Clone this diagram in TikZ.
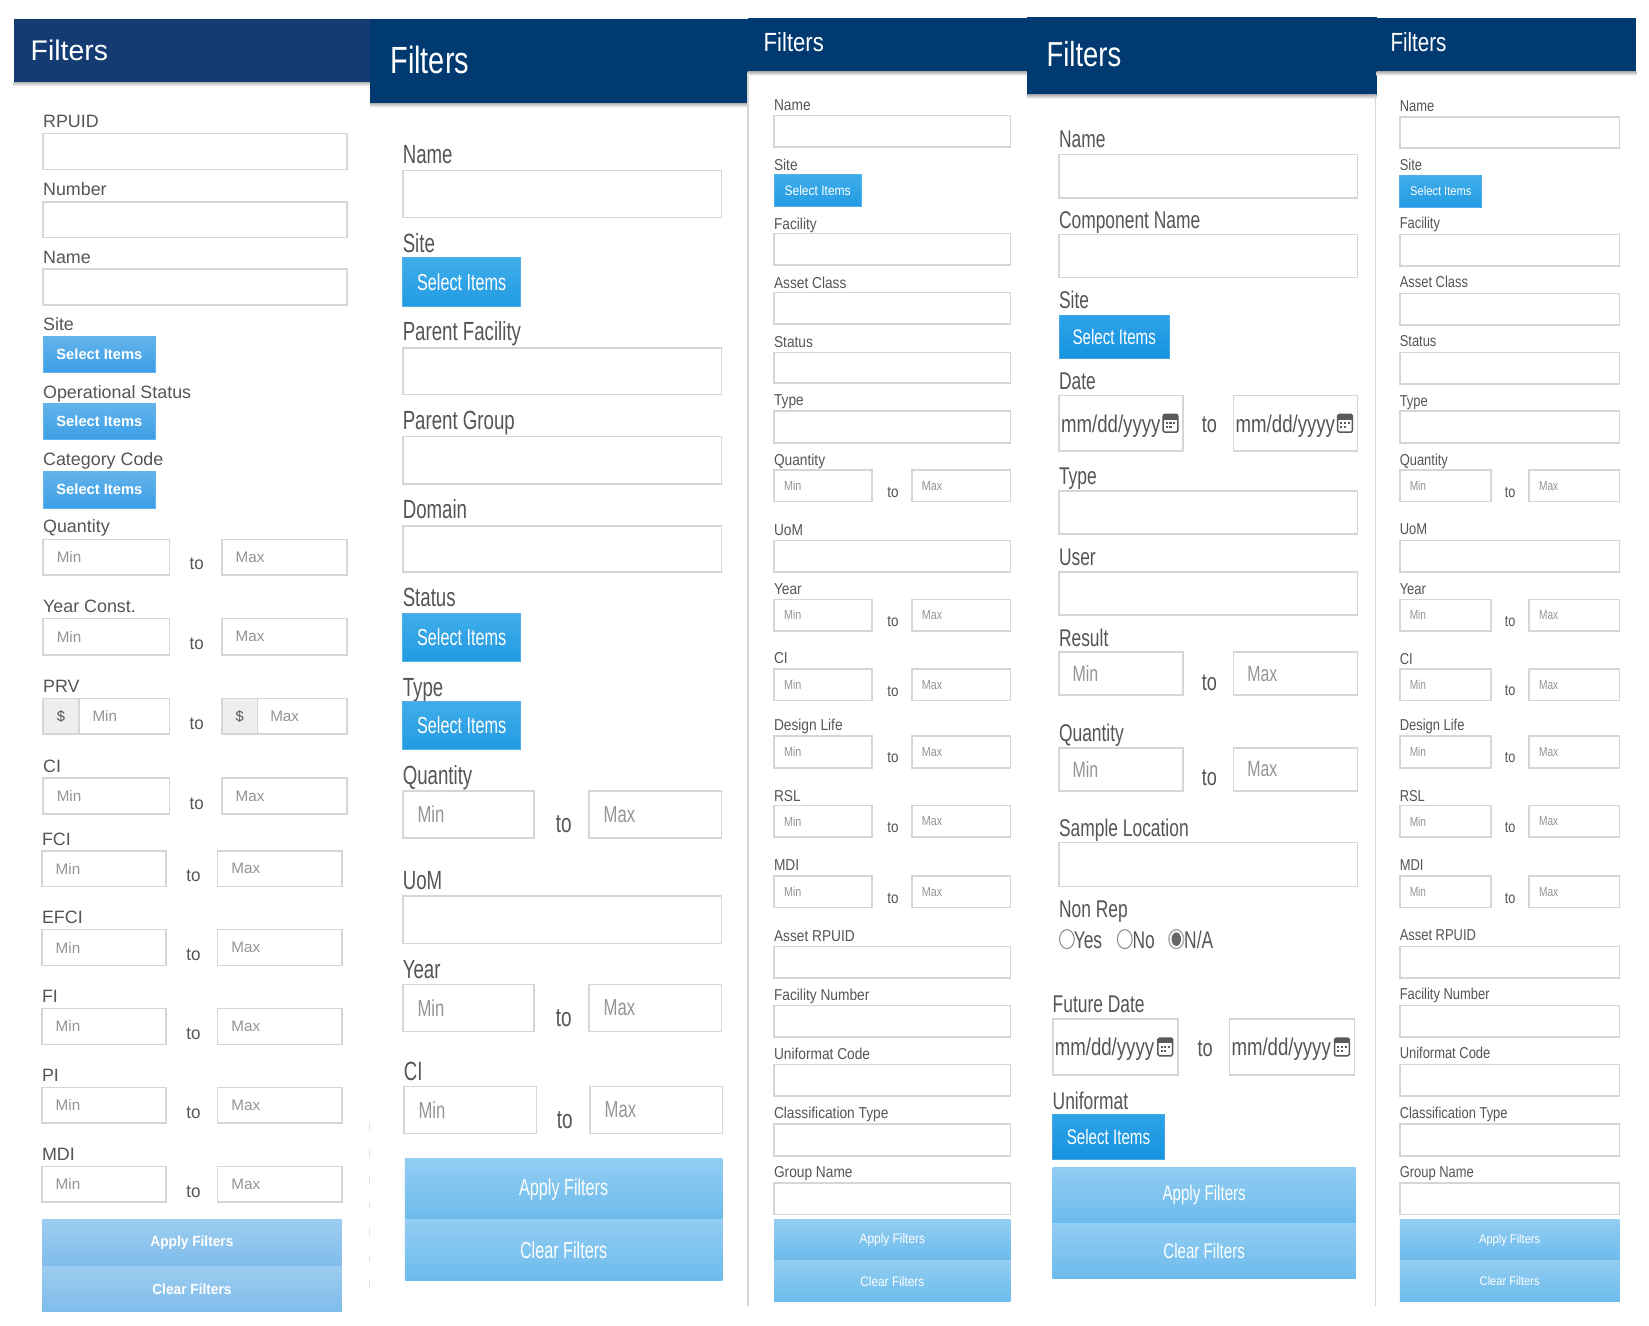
\documentclass[tikz,border=0pt]{standalone}
\usepackage{fontspec}
\usepackage{graphicx}
\setmainfont{Liberation Sans}
\definecolor{navyA}{HTML}{143C72}
\definecolor{navyB}{HTML}{003A70}
\definecolor{labelgray}{HTML}{555555}
\definecolor{holdgray}{HTML}{959595}
\definecolor{boxgray}{HTML}{D6D6D6}
\definecolor{addon}{HTML}{EEEEEE}
\definecolor{selTop}{HTML}{63B3EC}
\definecolor{selBot}{HTML}{3C9FE5}
\definecolor{wideTop}{HTML}{9CCDF0}
\definecolor{wideBot}{HTML}{80BCEB}
\tikzset{
  txt/.style={inner sep=0pt,outer sep=0pt,text=labelgray},
  holdtxt/.style={inner sep=0pt,outer sep=0pt,text=holdgray,anchor=west},
  whitetxt/.style={inner sep=0pt,outer sep=0pt,text=white,anchor=center},
  fieldbox/.style={draw=boxgray,line width=1.5pt,fill=white},
  bandshade/.style={draw=none,top color=#1,bottom color=white}
}
\newcount\nid
\newcommand\mynode{\global\advance\nid by 1 \node}
\def\dy{0}
% panel parameters
\newcommand\Ptext[6]{\def\ls{#1}\def\lx{#2}\def\ps{#3}\def\px{#4}\def\ts{#5}\def\tx{#6}}
\newcommand\Pbtn[6]{\def\bs{#1}\def\bx{#2}\def\as{#3}\def\ax{#4}\def\bw{#5}\def\bh{#6}}
\newcommand\Pgeo[6]{\def\xa{#1}\def\xb{#2}\def\xm{#3}\def\xn{#4}\def\xt{#5}\def\xh{#6}}
\newcommand\header[7]{%
  \fill[#5] (#1,#3) rectangle (#2,#4);
  \shade[bandshade=black!30] (#1,#4) rectangle (#2,#4+4);
  \mynode[inner sep=0pt,text=white,anchor=base west] (n\the\nid) at (#1+#6,#4-#7)
     {\scalebox{\tix}[1]{\fontsize{\tis}{\tis}\selectfont Filters}};}
\newcommand\lbl[2]{\mynode[txt,anchor=base west] (n\the\nid) at (\xa,#1+\dy) {\scalebox{\lx}[1]{\fontsize{\ls}{\ls}\selectfont #2}};}
\newcommand\lblx[3]{\mynode[txt,anchor=base west] (n\the\nid) at (#1,#2+\dy) {\scalebox{\lx}[1]{\fontsize{\ls}{\ls}\selectfont #3}};}
\newcommand\fld[2]{\draw[fieldbox] (\xa,#1) rectangle (\xb,#2);}
\newcommand\hold[3]{\mynode[holdtxt] (n\the\nid) at ({#1},{#2}) {\scalebox{\px}[1]{\fontsize{\ps}{\ps}\selectfont #3}};}
\newcommand\tolbl[1]{\mynode[txt,anchor=base] (n\the\nid) at (\xt,#1+\dy) {\scalebox{\tx}[1]{\fontsize{\ts}{\ts}\selectfont to}};}
\newcommand\rng[3]{%
  \draw[fieldbox] (\xa,#1) rectangle (\xm,#2);
  \draw[fieldbox] (\xn,#1) rectangle (\xb,#2);
  \hold{\xa+\xh}{(#1+#2)/2}{Min}
  \hold{\xn+\xh}{(#1+#2)/2}{Max}
  \tolbl{#3}}
\newcommand\btn[3]{%
  \shade[top color=\bh,bottom color=selBot,draw=selBot!80!white,line width=.8pt]
     (\xa,#1) rectangle (\xa+#3,#2);
  \mynode[whitetxt] (n\the\nid) at ({\xa+#3/2},{(#1+#2)/2})
     {\scalebox{\bx}[1]{\fontsize{\bs}{\bs}\selectfont\bw Select Items}};}
\newcommand\wide[3]{%
  \shade[top color=wideTop,bottom color=wideBot] (\xa,#1) rectangle (\xb,#2);
  \mynode[whitetxt] (n\the\nid) at ({(\xa+\xb)/2},{(#1+#2)/2})
     {\scalebox{\ax}[1]{\fontsize{\as}{\as}\selectfont\bw #3}};}
\newcommand\calicon[2]{%
  \draw[black!65,line width=1.4pt,rounded corners=1.5pt,fill=white] ({#1-7},{#2-8.5}) rectangle ({#1+7},{#2+8.5});
  \fill[black!65] ({#1-7},{#2-8.5}) rectangle ({#1+7},{#2-3.5});
  \foreach \i in {-3.5,0,3.5}{\fill[black!65] ({#1+\i-1},{#2-1}) rectangle ({#1+\i+1},{#2+1});}
  \foreach \i in {-3.5,0}{\fill[black!65] ({#1+\i-1},{#2+2.6}) rectangle ({#1+\i+1},{#2+4.6});}}
\newcommand\datebox[4]{%
  \draw[fieldbox] (#1,#3) rectangle (#2,#4);
  \mynode[txt,anchor=west] (n\the\nid) at (#1+2,{(#3+#4)/2+2.5})
    {\scalebox{.77}[1]{\fontsize{\ls}{\ls}\selectfont mm/dd/yyyy}};
  \calicon{#2-12}{(#3+#4)/2}}
\begin{document}
\begin{tikzpicture}[x=1pt,y=-1pt]
\useasboundingbox (0,0) rectangle (1568,1260);
\fill[white] (0,0) rectangle (1568,1260);

%%% PANEL 1
\def\dy{0.6}
\def\tis{27}\def\tix{1}
\header{13}{352}{18}{78}{navyA}{16}{20.5}
\Ptext{17}{1}{14.5}{1}{17}{.95}
\Pbtn{14}{1}{14}{.93}{\bfseries}{selTop}
\Pgeo{41}{330}{161}{211}{187}{13}
\lbl{121}{RPUID}\fld{127}{161}
\lbl{185}{Number}\fld{192}{226}
\lbl{250}{Name}\fld{256}{290}
\lbl{314}{Site}\btn{320}{354}{107}
\lbl{378}{Operational Status}\btn{384}{418}{107}
\lbl{442}{Category Code}\btn{448}{483}{107}
\lbl{506}{Quantity}\rng{513}{547}{541}
\lbl{582}{Year Const.}\rng{588}{623}{617}
\lbl{658}{PRV}
\draw[fieldbox] (41,664) rectangle (161,698);
\draw[fieldbox] (211,664) rectangle (330,698);
\draw[draw=boxgray,line width=1.5pt,fill=addon] (41,664) rectangle (75,698);
\draw[draw=boxgray,line width=1.5pt,fill=addon] (211,664) rectangle (245,698);
\hold{88}{681}{Min}\hold{257}{681}{Max}
\mynode[txt,anchor=center] (n\the\nid) at (58,681) {\fontsize{14}{14}\selectfont\$};
\mynode[txt,anchor=center] (n\the\nid) at (228,681) {\fontsize{14}{14}\selectfont\$};
\tolbl{693}
\lbl{734}{CI}\rng{740}{774}{769}
\Pgeo{40}{325}{158}{207}{184}{13}
\lbl{803}{FCI}\rng{809}{843}{838}
\lbl{878}{EFCI}\rng{884}{918}{913}
\lbl{953}{FI}\rng{959}{993}{988}
\lbl{1028}{PI}\rng{1034}{1068}{1063}
\lbl{1103}{MDI}\rng{1109}{1143}{1138}
\wide{1160}{1204}{Apply Filters}
\wide{1204}{1247}{Clear Filters}
\draw[black!12,line width=.8pt,dash pattern=on 7pt off 18pt] (351,1068) -- (351,1240);

%%% PANEL 2
\def\dy{1}
\definecolor{selTop}{HTML}{40ADE9}
\definecolor{selBot}{HTML}{229BE3}
\definecolor{wideTop}{HTML}{92CDF2}
\definecolor{wideBot}{HTML}{6CBBEC}
\def\tis{36}\def\tix{.765}
\header{352}{711}{18}{98}{navyB}{19}{28}
\Ptext{25}{.71}{22}{.72}{25}{.72}
\Pbtn{22}{.70}{22}{.70}{}{selTop}
\Pgeo{383}{686}{508}{560}{536}{14}
\lbl{154}{Name}\fld{162}{207}
\lbl{239}{Site}\btn{245}{291}{112}
\lbl{323}{Parent Facility}\fld{331}{375}
\lbl{407}{Parent Group}\fld{415}{460}
\lbl{492}{Domain}\fld{500}{544}
\lbl{576}{Status}\btn{583}{629}{112}
\lbl{661}{Type}\btn{667}{713}{112}
\lbl{745}{Quantity}\rng{752}{797}{791}
\lbl{845}{UoM}\fld{852}{897}
\lbl{929}{Year}\rng{936}{981}{975}
\Pgeo{384}{687}{510}{561}{537}{14}
\lbl{1026}{CI}\rng{1033}{1078}{1072}
\Pgeo{385}{687}{510}{561}{537}{14}
\wide{1102}{1160}{Apply Filters}
\wide{1160}{1218}{Clear Filters}
\draw[boxgray,line width=1.5pt] (711,68) -- (711,1242);

%%% PANEL 3
\def\tis{25}\def\tix{.84}
\header{711}{977}{17}{68}{navyB}{15}{19}
\Ptext{15}{.87}{12.5}{.82}{15}{.85}
\Pbtn{13}{.88}{13}{.87}{}{selTop}
\Pgeo{736}{961}{829}{867}{849}{9.5}
\lbl{104}{Name}\fld{110}{140}
\lbl{161}{Site}\btn{166}{196}{83}
\lbl{217}{Facility}\fld{222}{252}
\lbl{273}{Asset Class}\fld{278}{308}
\lbl{329}{Status}\fld{335}{364}
\lbl{385}{Type}\fld{391}{421}
\lbl{442}{Quantity}\rng{447}{477}{472}
\lbl{508}{UoM}\fld{514}{544}
\lbl{564}{Year}\rng{570}{600}{595}
\lbl{630}{CI}\rng{636}{666}{661}
\lbl{694}{Design Life}\rng{700}{730}{724}
\lbl{761}{RSL}\rng{766}{796}{791}
\lbl{827}{MDI}\rng{833}{863}{858}
\lbl{894}{Asset RPUID}\fld{900}{930}
\lbl{950}{Facility Number}\fld{956}{986}
\lbl{1006}{Uniformat Code}\fld{1012}{1042}
\lbl{1063}{Classification Type}\fld{1069}{1099}
\lbl{1119}{Group Name}\fld{1125}{1155}
\wide{1160}{1199}{Apply Filters}
\wide{1199}{1238}{Clear Filters}

%%% PANEL 4
\def\dy{1.6}
\definecolor{selTop}{HTML}{2FA3E8}
\definecolor{selBot}{HTML}{1592DF}
\def\tis{33}\def\tix{.79}
\header{977}{1309}{16}{90}{navyB}{18}{27}
\Ptext{23}{.72}{21}{.72}{23}{.75}
\Pbtn{20}{.72}{20}{.72}{}{selTop}
\Pgeo{1007}{1291}{1125}{1173}{1150}{13}
\lbl{139}{Name}\fld{147}{188}
\lbl{216}{Component Name}\fld{223}{264}
\lbl{292}{Site}\btn{300}{341}{105}
\lbl{369}{Date}
\datebox{1007}{1125}{376}{429}
\datebox{1173}{1291}{376}{429}
\tolbl{410}
\lbl{459}{Type}\fld{467}{508}
\lbl{536}{User}\fld{544}{585}
\lbl{613}{Result}\rng{620}{661}{655}
\lbl{703}{Quantity}\rng{711}{752}{745}
\lbl{794}{Sample Location}\fld{801}{843}
\lbl{871}{Non Rep}
\draw[black!45,line width=1pt,fill=white] (1014.5,893) ellipse [x radius=7,y radius=9];
\lblx{1021}{900}{Yes}
\draw[black!45,line width=1pt,fill=white] (1069.5,893) ellipse [x radius=7,y radius=9];
\lblx{1077}{900}{No}
\draw[black!30,line width=1.5pt,fill=white] (1118.5,893) ellipse [x radius=7,y radius=9];
\fill[black!60] (1118.5,893) ellipse [x radius=4.5,y radius=6.5];
\lblx{1126}{900}{N/A}
\Pgeo{1001}{1289}{1120}{1169}{1146}{13}
\lbl{961}{Future Date}
\datebox{1001}{1120}{969}{1022}
\datebox{1169}{1288}{969}{1022}
\tolbl{1003}
\lbl{1053}{Uniformat}\btn{1060}{1102}{106}
\wide{1110}{1163}{Apply Filters}
\wide{1163}{1216}{Clear Filters}
\draw[boxgray,line width=1.2pt] (1308,90) -- (1308,1242);

%%% PANEL 5
\def\dy{0.7}
\definecolor{selTop}{HTML}{40ADE9}
\definecolor{selBot}{HTML}{229BE3}
\def\tis{25}\def\tix{.78}
\header{1309}{1556}{17}{68}{navyB}{13}{19}
\Ptext{15}{.82}{12.5}{.77}{15}{.8}
\Pbtn{12}{.88}{12}{.88}{}{selTop}
\Pgeo{1331}{1540}{1418}{1454}{1436}{9.5}
\lbl{105}{Name}\fld{111}{141}
\lbl{161}{Site}\btn{167}{197}{78}
\lbl{217}{Facility}\fld{223}{253}
\lbl{273}{Asset Class}\fld{279}{309}
\lbl{329}{Status}\fld{335}{365}
\lbl{386}{Type}\fld{391}{421}
\lbl{442}{Quantity}\rng{447}{477}{472}
\lbl{508}{UoM}\fld{514}{544}
\lbl{565}{Year}\rng{570}{600}{595}
\lbl{631}{CI}\rng{636}{666}{661}
\lbl{694}{Design Life}\rng{700}{730}{724}
\lbl{761}{RSL}\rng{766}{796}{791}
\lbl{827}{MDI}\rng{833}{863}{858}
\lbl{894}{Asset RPUID}\fld{900}{930}
\lbl{950}{Facility Number}\fld{956}{986}
\lbl{1006}{Uniformat Code}\fld{1012}{1042}
\lbl{1063}{Classification Type}\fld{1069}{1099}
\lbl{1119}{Group Name}\fld{1125}{1155}
\wide{1160}{1199}{Apply Filters}
\wide{1199}{1238}{Clear Filters}
\end{tikzpicture}
\end{document}
